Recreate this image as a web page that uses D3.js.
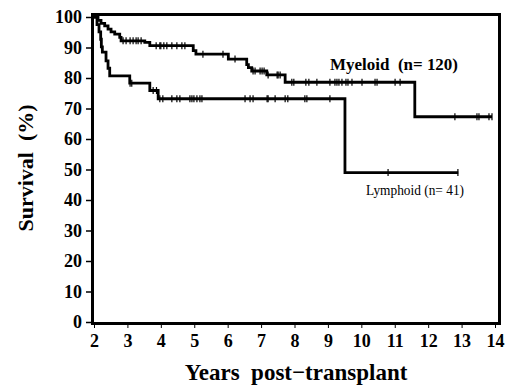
<!DOCTYPE html>
<html><head><meta charset="utf-8">
<script src="https://cdn.jsdelivr.net/npm/d3@7"></script>
<style>body{margin:0;background:#fff}</style>
</head><body>
<svg id="c" width="520" height="390"></svg>
<script>
const xTicks = [2,3,4,5,6,7,8,9,10,11,12,13,14];
const yTicks = [0,10,20,30,40,50,60,70,80,90,100];

const myeloidTimes = [2.0, 2.12, 2.21, 2.32, 2.42, 2.51, 2.62, 2.77, 2.81, 3.52, 3.67, 4.97, 5.05, 6.02, 6.57, 6.62, 6.72, 7.17, 7.72, 11.6];
const myeloidSurv  = [100, 98.9, 97.9, 97.1, 96.0, 95.1, 94.4, 93.3, 92.2, 91.7, 90.6, 89.0, 87.8, 86.2, 84.4, 83.4, 82.3, 81.0, 78.6, 67.3];
const myeloidEnd = 13.91;
const myeloidCensor = [2.87,2.96,3.08,3.17,3.26,3.32,3.41,3.86,3.97,4.00,4.09,4.18,4.33,4.48,4.63,4.72,5.26,5.86,6.22,6.76,6.82,6.97,7.03,7.09,7.21,7.48,7.51,7.57,7.92,7.98,8.34,8.43,8.67,9.06,9.21,9.27,9.33,9.42,9.54,9.60,9.72,10.02,10.41,10.47,11.01,11.16,12.80,13.46,13.52,13.82,13.91];

const lymphoidTimes = [2.0, 2.09, 2.15, 2.2, 2.22, 2.25, 2.36, 2.42, 2.47, 3.07, 3.67, 3.92, 9.51];
const lymphoidSurv  = [100, 97.5, 95.1, 92.7, 90.2, 88.5, 85.6, 83.2, 80.7, 78.3, 75.9, 73.2, 49.0];
const lymphoidEnd = 12.9;
const lymphoidCensor = [3.08,3.13,3.77,3.87,3.97,4.06,4.33,4.48,4.57,4.87,4.93,4.99,5.08,5.17,5.23,6.52,6.67,6.76,7.18,7.21,7.42,7.72,7.80,8.31,8.37,9.06,10.8,12.89];

const svg = d3.select("#c");
const x = d3.scaleLinear().domain([2,14]).range([94,495]);
const y = d3.scaleLinear().domain([0,100]).range([322,17]);
const font = "'Liberation Serif', serif";

// frame
svg.append("rect").attr("x",92.5).attr("y",14.5).attr("width",407).attr("height",309)
  .attr("fill","none").attr("stroke","#000").attr("stroke-width",3);

// y axis ticks
const ya = svg.append("g").attr("transform","translate(91,0)")
  .call(d3.axisLeft(y).tickValues(yTicks).tickSize(5).tickPadding(4));
ya.select(".domain").remove();
ya.selectAll("line").attr("stroke-width",1.5);
ya.selectAll("text").attr("font-family",font).attr("font-weight","bold").attr("font-size",18).attr("fill","#000");

// x axis ticks
const xa = svg.append("g").attr("transform","translate(0,325)")
  .call(d3.axisBottom(x).tickValues(xTicks).tickSize(3).tickPadding(6));
xa.select(".domain").remove();
xa.selectAll("line").attr("stroke-width",1);
xa.selectAll("text").attr("font-family",font).attr("font-weight","bold").attr("font-size",18).attr("fill","#000");

function stepPath(times, surv, end){
  let p = d3.path();
  p.moveTo(x(times[0]), y(surv[0]));
  for(let i=1;i<times.length;i++){
    p.lineTo(x(times[i]), y(surv[i-1]));
    p.lineTo(x(times[i]), y(surv[i]));
  }
  p.lineTo(x(end), y(surv[surv.length-1]));
  return p.toString();
}
function survAt(times, surv, t){
  let s = surv[0];
  for(let i=0;i<times.length;i++){ if(times[i] <= t) s = surv[i]; }
  return s;
}
function drawCurve(times, surv, end, censor){
  svg.append("path").attr("d", stepPath(times,surv,end))
    .attr("fill","none").attr("stroke","#000").attr("stroke-width",2.8).attr("stroke-linejoin","miter");
  svg.append("g").selectAll("line").data(censor).join("line")
    .attr("x1",d=>x(d)).attr("x2",d=>x(d))
    .attr("y1",d=>y(survAt(times,surv,d))-3.5).attr("y2",d=>y(survAt(times,surv,d))+3.5)
    .attr("stroke","#000").attr("stroke-width",1.2);
}
drawCurve(myeloidTimes, myeloidSurv, myeloidEnd, myeloidCensor);
drawCurve(lymphoidTimes, lymphoidSurv, lymphoidEnd, lymphoidCensor);

svg.append("text").attr("x",330).attr("y",70).attr("font-family",font).attr("font-weight","bold")
  .attr("font-size",16).attr("fill","#000").attr("xml:space","preserve")
  .attr("textLength",128).attr("lengthAdjust","spacingAndGlyphs").text("Myeloid  (n= 120)");
svg.append("text").attr("x",366).attr("y",195).attr("font-family",font)
  .attr("font-size",15.5).attr("fill","#000").attr("xml:space","preserve")
  .attr("textLength",98).attr("lengthAdjust","spacingAndGlyphs").text("Lymphoid (n= 41)");

svg.append("text").attr("x",296).attr("y",380).attr("text-anchor","middle").attr("font-family",font)
  .attr("font-weight","bold").attr("font-size",23).attr("fill","#000").attr("xml:space","preserve").text("Years  post\u2212transplant");
svg.append("text").attr("transform","translate(33,168) rotate(-90)").attr("text-anchor","middle").attr("font-family",font)
  .attr("font-weight","bold").attr("font-size",22).attr("fill","#000").attr("xml:space","preserve").text("Survival  (%)");
</script>
</body></html>
